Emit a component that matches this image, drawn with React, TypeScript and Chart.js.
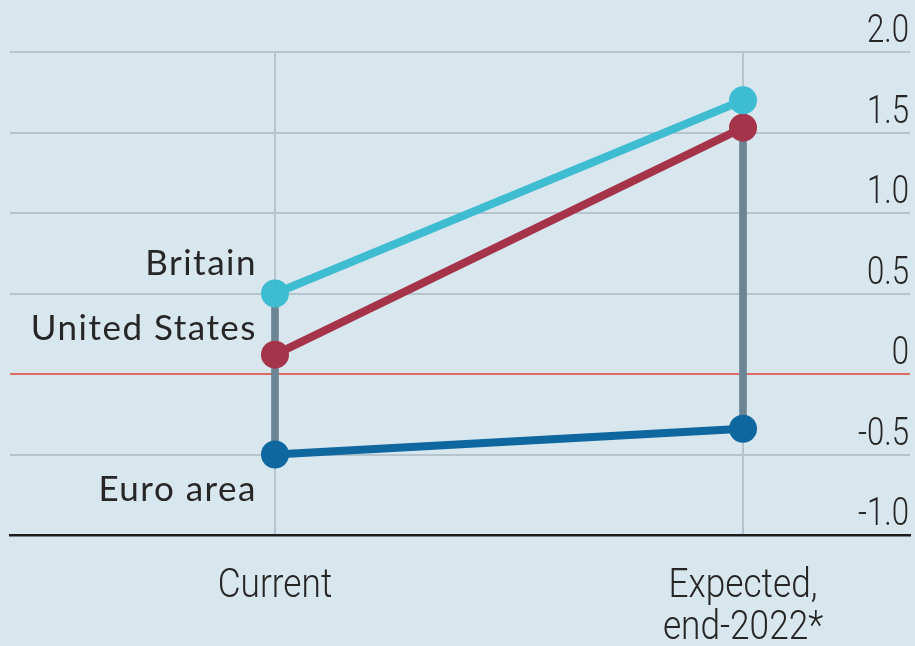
import React, { useEffect, useRef } from "react";
import { Chart, registerables } from "chart.js";

Chart.register(...registerables);

// ---- Data ----
const categories: string[][] = [["Current"], ["Expected,", "end-2022*"]];
const seriesNames = ["Britain", "United States", "Euro area"];
const britain = [0.5, 1.7];
const unitedStates = [0.12, 1.53];
const euroArea = [-0.5, -0.34];
const yTicks = [-1.0, -0.5, 0, 0.5, 1.0, 1.5, 2.0];

// ---- Styles ----
const BG = "#d8e6ee";
const GRID = "#b6c5cd";
const ZERO = "#df6b66";
const RANGE = "#6b8595";
const TEXT = "#262626";
const COLORS = ["#3ebcd2", "#a5344a", "#0f67a0"];
const LABEL_DY = [-19, -15, 46];
const TICK_FONT = "Roboto, 'Liberation Sans', sans-serif";
const LABEL_FONT = "Lato, 'Open Sans', sans-serif";

const fmtY = (v: number) => (v === 0 ? "0" : v.toFixed(1));

const seriesLabelPlugin = {
  id: "seriesLabels",
  afterDatasetsDraw(chart: any) {
    const ctx = chart.ctx;
    chart.data.datasets.forEach((ds: any, i: number) => {
      if (ds.labelDy === undefined) return;
      const meta = chart.getDatasetMeta(i);
      const pt = meta.data[0];
      if (!pt) return;
      ctx.save();
      ctx.font = `35px ${LABEL_FONT}`;
      (ctx as any).letterSpacing = "1.5px";
      ctx.fillStyle = TEXT;
      ctx.textAlign = "right";
      ctx.textBaseline = "alphabetic";
      ctx.fillText(ds.label, pt.x - 18, pt.y + ds.labelDy);
      ctx.restore();
    });
  },
};

// Condensed tick labels drawn from the scales' own ticks
const tickLabelPlugin = {
  id: "condensedTicks",
  afterDraw(chart: any) {
    const ctx = chart.ctx;
    const xs = chart.scales.x;
    const ys = chart.scales.y;
    const area = chart.chartArea;
    ctx.save();
    ctx.fillStyle = TEXT;
    ctx.textBaseline = "alphabetic";
    ctx.font = `300 39px ${TICK_FONT}`;
    ys.ticks.forEach((t: any) => {
      const y = ys.getPixelForValue(t.value);
      ctx.save();
      ctx.translate(area.right - 1, y - 10);
      ctx.scale(0.8, 1);
      ctx.textAlign = "right";
      ctx.fillText(fmtY(t.value), 0, 0);
      ctx.restore();
    });
    ctx.font = `300 40px ${TICK_FONT}`;
    xs.ticks.forEach((t: any) => {
      const x = xs.getPixelForValue(t.value);
      const lines = categories[Math.round(t.value)] || [];
      lines.forEach((line, li) => {
        ctx.save();
        ctx.translate(x, area.bottom + 62 + li * 42);
        ctx.scale(0.88, 1);
        ctx.textAlign = "center";
        ctx.fillText(line, 0, 0);
        ctx.restore();
      });
    });
    ctx.restore();
  },
};

export default function App() {
  const ref = useRef<HTMLCanvasElement | null>(null);

  useEffect(() => {
    if (!ref.current) return;
    const series = [britain, unitedStates, euroArea];
    const lineSets = series.map((vals, si) => ({
      type: "line" as const,
      label: seriesNames[si],
      data: vals.map((v, i) => ({ x: i, y: v })),
      borderColor: COLORS[si],
      backgroundColor: COLORS[si],
      borderWidth: 8,
      pointRadius: 14,
      pointBorderWidth: 0,
      pointBackgroundColor: COLORS[si],
      order: 0,
      labelDy: LABEL_DY[si],
    }));
    const ranges = categories.map((_, i) => {
      const vals = series.map((s) => s[i]);
      return { x: i, y: [Math.min(...vals), Math.max(...vals)] };
    });
    const chart = new Chart(ref.current, {
      type: "line",
      data: {
        datasets: [
          {
            type: "bar" as const,
            label: "range",
            data: ranges as any,
            backgroundColor: RANGE,
            borderWidth: 0,
            barThickness: 7,
            order: 1,
          } as any,
          ...(lineSets as any[]),
        ],
      },
      options: {
        animation: false,
        responsive: false,
        devicePixelRatio: 1,
        layout: { autoPadding: false, padding: { top: 52, right: 5, left: 10, bottom: 0 } },
        plugins: { legend: { display: false }, tooltip: { enabled: false } },
        scales: {
          x: {
            type: "linear",
            offset: false,
            min: -0.5662,
            max: 1.3568,
            afterBuildTicks: (scale: any) => {
              scale.ticks = categories.map((_, i) => ({ value: i }));
            },
            afterFit: (scale: any) => {
              scale.height = 111;
            },
            grid: { color: GRID, lineWidth: 2, drawTicks: false, offset: false },
            border: { display: true, color: "#1c1c1c", width: 2.5 },
            ticks: { display: false, autoSkip: false, maxRotation: 0 },
          },
          y: {
            type: "linear",
            position: "right",
            min: yTicks[0],
            max: yTicks[yTicks.length - 1],
            afterBuildTicks: (scale: any) => {
              scale.ticks = yTicks.map((v) => ({ value: v }));
            },
            afterFit: (scale: any) => {
              scale.width = 0;
            },
            grid: {
              drawTicks: false,
              lineWidth: 2,
              color: (c: any) => (c.tick && c.tick.value === 0 ? ZERO : GRID),
            },
            border: { display: false },
            ticks: { display: false },
          },
        },
      },
      plugins: [seriesLabelPlugin, tickLabelPlugin],
    } as any);
    return () => chart.destroy();
  }, []);

  return (
    <div style={{ position: "fixed", left: 0, top: 0, width: 915, height: 646, background: BG }}>
      <canvas ref={ref} width={915} height={646} style={{ display: "block" }} />
    </div>
  );
}
